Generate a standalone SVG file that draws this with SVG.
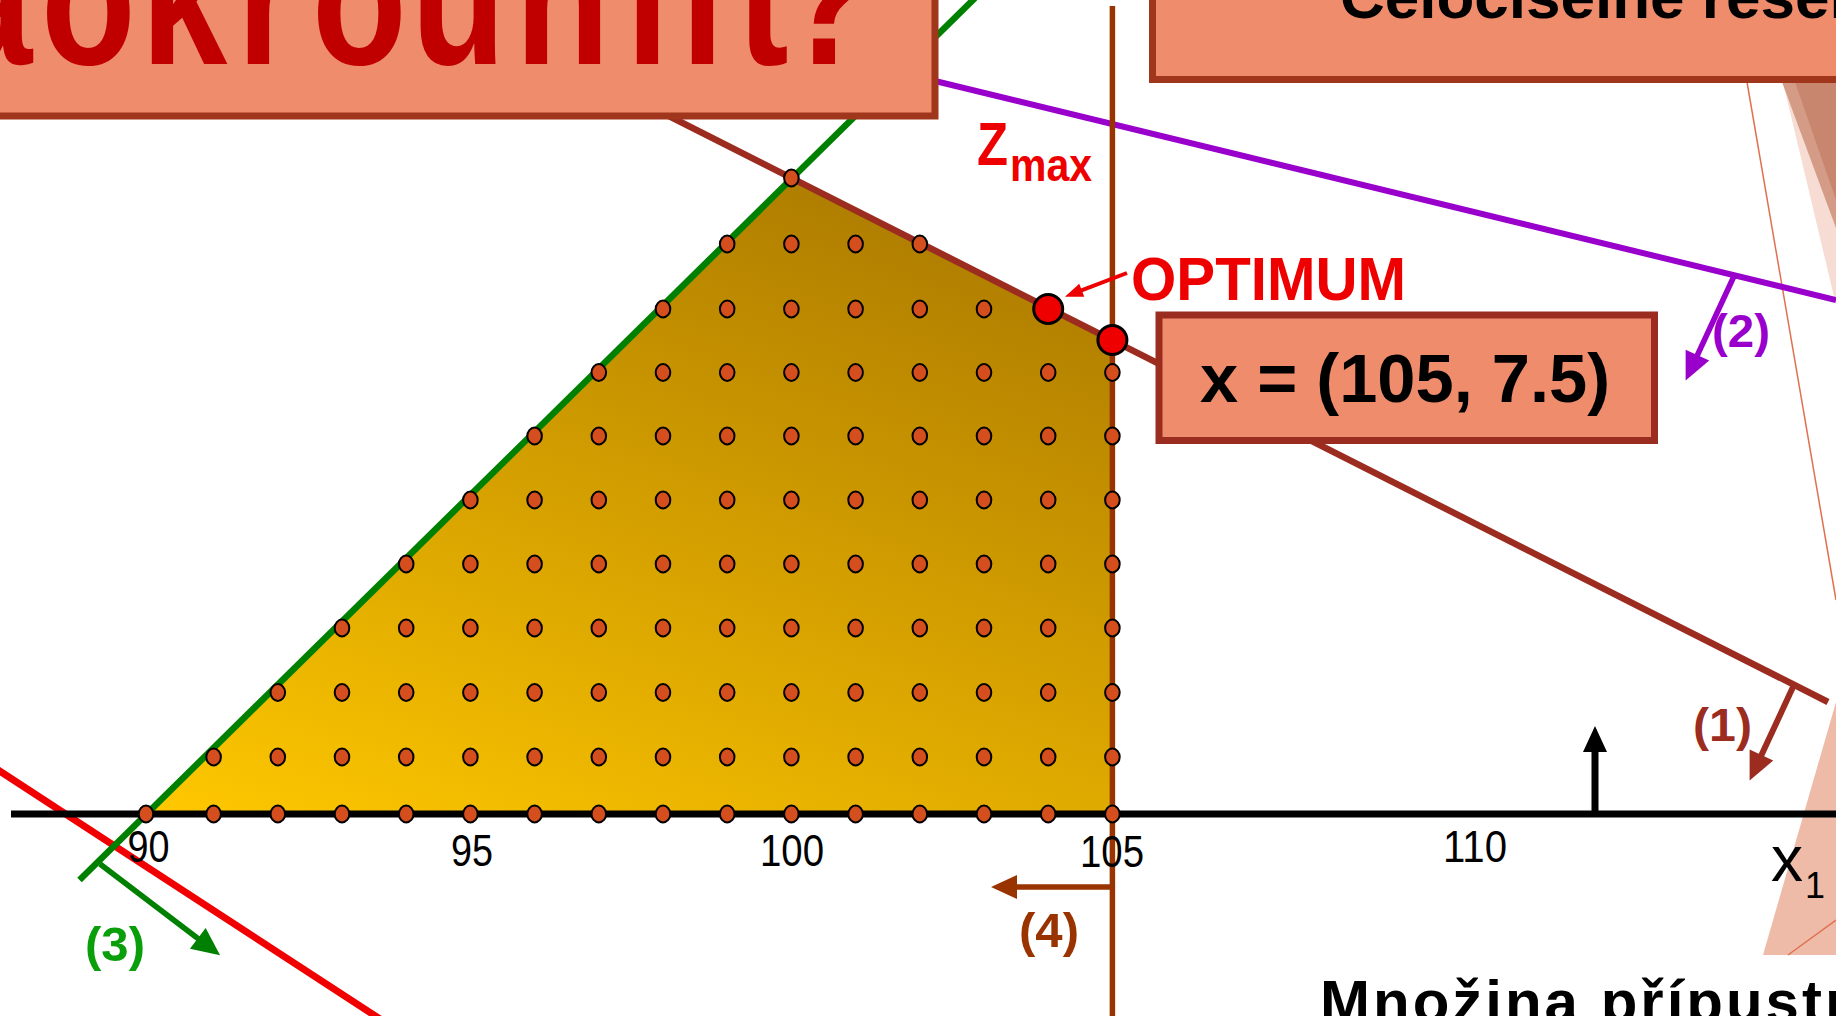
<svg xmlns="http://www.w3.org/2000/svg" width="1836" height="1016" viewBox="0 0 1836 1016">
<style>
.box{fill:#EF8C6C;stroke:#A0361C;stroke-width:7}
.pt{fill:#D54F1E;stroke:#000;stroke-width:2}
.opt{fill:#EE0000;stroke:#000;stroke-width:3}
.lbl{font-family:"Liberation Sans",Arial,sans-serif}
.b{font-weight:bold}
.ax{font-family:"Liberation Sans",Arial,sans-serif;font-size:44px;fill:#000;text-anchor:middle}
</style>
<defs>
<linearGradient id="fillg" gradientUnits="userSpaceOnUse" x1="145" y1="814" x2="421" y2="45">
<stop offset="0" stop-color="#FFC800"/>
<stop offset="1" stop-color="#B07E00"/>
</linearGradient>
<ellipse id="dot" class="pt" cx="0" cy="0" rx="7.3" ry="8.4"/>
<marker id="hBrown1" markerUnits="userSpaceOnUse" markerWidth="28" markerHeight="26" refX="1" refY="13" orient="auto" overflow="visible"><path d="M0,0 L28,13 L0,26 z" fill="#9B2C1F"/></marker>
<marker id="hPurple" markerUnits="userSpaceOnUse" markerWidth="28" markerHeight="26" refX="1" refY="13" orient="auto" overflow="visible"><path d="M0,0 L28,13 L0,26 z" fill="#9900CC"/></marker>
<marker id="hGreen" markerUnits="userSpaceOnUse" markerWidth="28" markerHeight="26" refX="1" refY="13" orient="auto" overflow="visible"><path d="M0,0 L28,13 L0,26 z" fill="#008000"/></marker>
<marker id="hBrown4" markerUnits="userSpaceOnUse" markerWidth="26" markerHeight="24" refX="1" refY="12" orient="auto" overflow="visible"><path d="M0,0 L26,12 L0,24 z" fill="#993300"/></marker>
<marker id="hBlack" markerUnits="userSpaceOnUse" markerWidth="26" markerHeight="24" refX="1" refY="12" orient="auto" overflow="visible"><path d="M0,0 L26,12 L0,24 z" fill="#000"/></marker>
<marker id="hRed" markerUnits="userSpaceOnUse" markerWidth="18" markerHeight="14" refX="1" refY="7" orient="auto" overflow="visible"><path d="M0,0 L18,7 L0,14 z" fill="#EE0000"/></marker>
</defs>
<rect width="1836" height="1016" fill="#fff"/>

<g id="decor">
<polygon points="1783,82 1836,82 1836,305" fill="#F6DCD2"/>
<polygon points="1782,82 1836,82 1836,228" fill="#D49C86"/>
<polygon points="1795,82 1836,82 1836,200" fill="#C8866E"/>
<line x1="1747" y1="82" x2="1836" y2="600" stroke="#E07050" stroke-width="1.5"/>
<polygon points="1836,702 1763,955 1836,955" fill="#EEBBA8"/>
<line x1="1788" y1="955" x2="1836" y2="920" stroke="#E07050" stroke-width="1.5"/>
</g>

<g id="feasible-region">
<polygon points="145,814 792,178 1112.4,340 1112.4,814" fill="url(#fillg)"/>
</g>

<g id="connectors">
<line x1="-5" y1="768" x2="380" y2="1019" stroke="#F00000" stroke-width="7"/>
<line x1="79.5" y1="880" x2="975" y2="-2" stroke="#008000" stroke-width="6.5"/>
<line x1="560" y1="61" x2="1828" y2="702" stroke="#9B2C1F" stroke-width="6.5"/>
<line x1="900" y1="72.5" x2="1836" y2="300" stroke="#9900CC" stroke-width="6"/>
<line x1="1112.4" y1="6" x2="1112.4" y2="1016" stroke="#993300" stroke-width="5.5"/>
<line x1="11" y1="814" x2="1836" y2="814" stroke="#000" stroke-width="7"/>
<line x1="1793" y1="687" x2="1761" y2="756" stroke="#9B2C1F" stroke-width="6" marker-end="url(#hBrown1)"/>
<line x1="1735" y1="274" x2="1697" y2="356" stroke="#9900CC" stroke-width="5.5" marker-end="url(#hPurple)"/>
<line x1="100" y1="864" x2="198.6" y2="939" stroke="#008000" stroke-width="5.5" marker-end="url(#hGreen)"/>
<line x1="1110" y1="887" x2="1016" y2="887" stroke="#993300" stroke-width="5.5" marker-end="url(#hBrown4)"/>
<line x1="1595" y1="814" x2="1595" y2="751" stroke="#000" stroke-width="7" marker-end="url(#hBlack)"/>
<line x1="1127" y1="273" x2="1080.8" y2="290.6" stroke="#EE0000" stroke-width="4" marker-end="url(#hRed)"/>
</g>

<g id="lattice">
<use href="#dot" x="146" y="814"/><use href="#dot" x="213.6" y="814"/><use href="#dot" x="277.8" y="814"/><use href="#dot" x="342" y="814"/><use href="#dot" x="406.2" y="814"/><use href="#dot" x="470.4" y="814"/><use href="#dot" x="534.6" y="814"/><use href="#dot" x="598.8" y="814"/><use href="#dot" x="663" y="814"/><use href="#dot" x="727.2" y="814"/><use href="#dot" x="791.4" y="814"/><use href="#dot" x="855.6" y="814"/><use href="#dot" x="919.8" y="814"/><use href="#dot" x="984" y="814"/><use href="#dot" x="1048.2" y="814"/><use href="#dot" x="1112.4" y="814"/>
<use href="#dot" x="213.6" y="757"/><use href="#dot" x="277.8" y="757"/><use href="#dot" x="342" y="757"/><use href="#dot" x="406.2" y="757"/><use href="#dot" x="470.4" y="757"/><use href="#dot" x="534.6" y="757"/><use href="#dot" x="598.8" y="757"/><use href="#dot" x="663" y="757"/><use href="#dot" x="727.2" y="757"/><use href="#dot" x="791.4" y="757"/><use href="#dot" x="855.6" y="757"/><use href="#dot" x="919.8" y="757"/><use href="#dot" x="984" y="757"/><use href="#dot" x="1048.2" y="757"/><use href="#dot" x="1112.4" y="757"/>
<use href="#dot" x="277.8" y="692.5"/><use href="#dot" x="342" y="692.5"/><use href="#dot" x="406.2" y="692.5"/><use href="#dot" x="470.4" y="692.5"/><use href="#dot" x="534.6" y="692.5"/><use href="#dot" x="598.8" y="692.5"/><use href="#dot" x="663" y="692.5"/><use href="#dot" x="727.2" y="692.5"/><use href="#dot" x="791.4" y="692.5"/><use href="#dot" x="855.6" y="692.5"/><use href="#dot" x="919.8" y="692.5"/><use href="#dot" x="984" y="692.5"/><use href="#dot" x="1048.2" y="692.5"/><use href="#dot" x="1112.4" y="692.5"/>
<use href="#dot" x="342" y="628"/><use href="#dot" x="406.2" y="628"/><use href="#dot" x="470.4" y="628"/><use href="#dot" x="534.6" y="628"/><use href="#dot" x="598.8" y="628"/><use href="#dot" x="663" y="628"/><use href="#dot" x="727.2" y="628"/><use href="#dot" x="791.4" y="628"/><use href="#dot" x="855.6" y="628"/><use href="#dot" x="919.8" y="628"/><use href="#dot" x="984" y="628"/><use href="#dot" x="1048.2" y="628"/><use href="#dot" x="1112.4" y="628"/>
<use href="#dot" x="406.2" y="564"/><use href="#dot" x="470.4" y="564"/><use href="#dot" x="534.6" y="564"/><use href="#dot" x="598.8" y="564"/><use href="#dot" x="663" y="564"/><use href="#dot" x="727.2" y="564"/><use href="#dot" x="791.4" y="564"/><use href="#dot" x="855.6" y="564"/><use href="#dot" x="919.8" y="564"/><use href="#dot" x="984" y="564"/><use href="#dot" x="1048.2" y="564"/><use href="#dot" x="1112.4" y="564"/>
<use href="#dot" x="470.4" y="500"/><use href="#dot" x="534.6" y="500"/><use href="#dot" x="598.8" y="500"/><use href="#dot" x="663" y="500"/><use href="#dot" x="727.2" y="500"/><use href="#dot" x="791.4" y="500"/><use href="#dot" x="855.6" y="500"/><use href="#dot" x="919.8" y="500"/><use href="#dot" x="984" y="500"/><use href="#dot" x="1048.2" y="500"/><use href="#dot" x="1112.4" y="500"/>
<use href="#dot" x="534.6" y="436"/><use href="#dot" x="598.8" y="436"/><use href="#dot" x="663" y="436"/><use href="#dot" x="727.2" y="436"/><use href="#dot" x="791.4" y="436"/><use href="#dot" x="855.6" y="436"/><use href="#dot" x="919.8" y="436"/><use href="#dot" x="984" y="436"/><use href="#dot" x="1048.2" y="436"/><use href="#dot" x="1112.4" y="436"/>
<use href="#dot" x="598.8" y="372.5"/><use href="#dot" x="663" y="372.5"/><use href="#dot" x="727.2" y="372.5"/><use href="#dot" x="791.4" y="372.5"/><use href="#dot" x="855.6" y="372.5"/><use href="#dot" x="919.8" y="372.5"/><use href="#dot" x="984" y="372.5"/><use href="#dot" x="1048.2" y="372.5"/><use href="#dot" x="1112.4" y="372.5"/>
<use href="#dot" x="663" y="309"/><use href="#dot" x="727.2" y="309"/><use href="#dot" x="791.4" y="309"/><use href="#dot" x="855.6" y="309"/><use href="#dot" x="919.8" y="309"/><use href="#dot" x="984" y="309"/>
<use href="#dot" x="727.2" y="244"/><use href="#dot" x="791.4" y="244"/><use href="#dot" x="855.6" y="244"/><use href="#dot" x="919.8" y="244"/>
<use href="#dot" x="791.4" y="178"/>
</g>

<g id="optimum-points">
<circle class="opt" cx="1048.2" cy="309" r="14.5"/>
<circle class="opt" cx="1112.4" cy="340" r="14.5"/>
</g>

<g id="title-left">
<rect class="box" x="-20" y="-20" width="955" height="136"/>
<text class="lbl b" x="-150 -54 41 141 237 312 411 515 626 681 737 780" y="64" font-size="155" fill="#C00000" transform="translate(0,64) scale(1,1.25) translate(0,-64)">zaokrouhlit?</text>
</g>

<g id="title-right">
<rect class="box" x="1152.5" y="-20" width="720" height="99.5"/>
<text class="lbl b" x="1340" y="18" font-size="62" fill="#000">Celočíselné řešení</text>
</g>

<g id="solution-box">
<rect class="box" x="1159" y="315" width="495.5" height="125.5" style="stroke:#9B2D20"/>
<text class="lbl b" x="1200" y="402" font-size="68" fill="#000" textLength="410" lengthAdjust="spacingAndGlyphs">x = (105, 7.5)</text>
</g>

<g id="labels">
<text class="lbl b" x="977" y="165" font-size="61" fill="#EE0000" textLength="31" lengthAdjust="spacingAndGlyphs">Z</text>
<text class="lbl b" x="1010" y="181" font-size="46" fill="#EE0000" textLength="82" lengthAdjust="spacingAndGlyphs">max</text>
<text class="lbl b" x="1131" y="300" font-size="62" fill="#EE0000" textLength="275" lengthAdjust="spacingAndGlyphs">OPTIMUM</text>
<text class="lbl b" x="1693" y="741" font-size="46" fill="#9B2C1F" textLength="59" lengthAdjust="spacingAndGlyphs">(1)</text>
<text class="lbl b" x="1712" y="347" font-size="46" fill="#9900CC" textLength="58" lengthAdjust="spacingAndGlyphs">(2)</text>
<text class="lbl b" x="85" y="961" font-size="48" fill="#0A9E0A" textLength="60" lengthAdjust="spacingAndGlyphs">(3)</text>
<text class="lbl b" x="1019" y="947" font-size="48" fill="#993300" textLength="60" lengthAdjust="spacingAndGlyphs">(4)</text>
<text class="ax" x="148.5" y="862" textLength="42" lengthAdjust="spacingAndGlyphs">90</text>
<text class="ax" x="472" y="866" textLength="42" lengthAdjust="spacingAndGlyphs">95</text>
<text class="ax" x="792" y="866" textLength="64" lengthAdjust="spacingAndGlyphs">100</text>
<text class="ax" x="1112" y="867" textLength="64" lengthAdjust="spacingAndGlyphs">105</text>
<text class="ax" x="1475" y="862" textLength="64" lengthAdjust="spacingAndGlyphs">110</text>
<text class="lbl" x="1771" y="881" font-size="64" fill="#000">x<tspan x="1805" y="898" font-size="36">1</tspan></text>
<text class="lbl b" x="1320" y="1022" font-size="60" letter-spacing="3" fill="#000">Množina přípustných řešení</text>
</g>
</svg>
